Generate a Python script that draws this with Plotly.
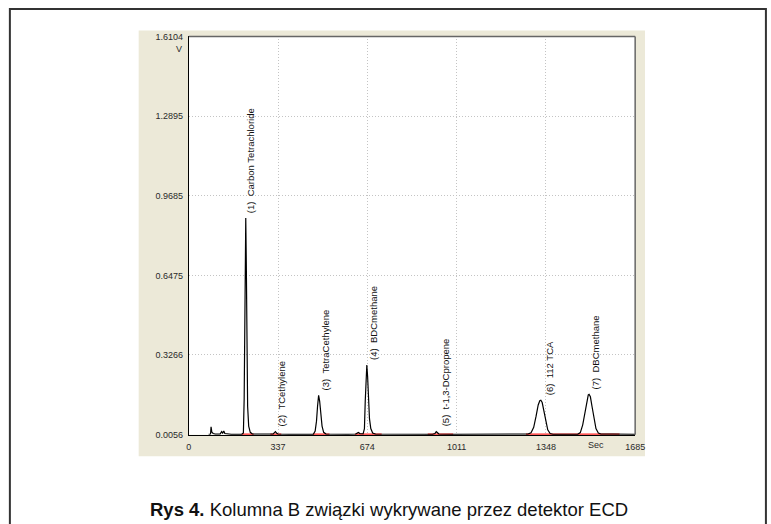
import plotly.graph_objects as go

W, H = 771, 524

# ---- data ----
time_s = [75, 82, 84, 87, 92, 100, 118, 124, 128, 132, 136, 145, 160, 200, 206, 209, 211, 213, 215, 217, 219, 222, 226, 232, 240,
          300, 318, 323, 327, 331, 337, 380,
          470, 477, 482, 486, 490, 494, 498, 503, 509, 518, 600,
          630, 640, 646, 658, 663, 666, 669, 672, 675, 678, 682, 687, 694, 705, 760,
          920, 929, 934, 938, 944, 1000,
          1090, 1280, 1292, 1302, 1311, 1319, 1325, 1329, 1334, 1340, 1347, 1355, 1364, 1375,
          1468, 1478, 1487, 1496, 1503, 1508, 1511, 1516, 1522, 1529, 1537, 1546, 1556, 1600, 1685]
signal_v = [0.007, 0.008, 0.037, 0.015, 0.010, 0.008, 0.008, 0.018, 0.012, 0.020, 0.010, 0.008, 0.007, 0.007, 0.012, 0.15, 0.55, 0.85, 0.879, 0.70, 0.35, 0.12, 0.04, 0.015, 0.008,
            0.007, 0.008, 0.014, 0.018, 0.012, 0.008, 0.007,
            0.007, 0.020, 0.060, 0.120, 0.164, 0.140, 0.090, 0.040, 0.015, 0.008, 0.007,
            0.008, 0.014, 0.010, 0.009, 0.030, 0.140, 0.250, 0.286, 0.240, 0.150, 0.070, 0.030, 0.012, 0.008, 0.007,
            0.007, 0.010, 0.018, 0.014, 0.008, 0.007,
            0.008, 0.008, 0.013, 0.035, 0.080, 0.125, 0.142, 0.144, 0.135, 0.105, 0.060, 0.025, 0.010, 0.007,
            0.007, 0.014, 0.045, 0.100, 0.148, 0.166, 0.168, 0.158, 0.120, 0.070, 0.030, 0.012, 0.008, 0.008, 0.007]

# integration baselines (start, end) in seconds
base_start = [200, 308, 468, 627, 902, 1273]
base_end = [245, 349, 531, 728, 998, 1626]
base_level = 0.0066

peak_labels = ["(1)\u00a0\u00a0Carbon Tetrachloride", "(2)\u00a0\u00a0TCethylene", "(3)\u00a0\u00a0TetraCethylene",
               "(4)\u00a0\u00a0BDCmethane", "(5)\u00a0\u00a0t-1,3-DCpropene", "(6)\u00a0\u00a0112 TCA", "(7)\u00a0\u00a0DBCmethane"]
peak_time = [215, 327, 490, 672, 936, 1329, 1511]
peak_height = [0.879, 0.018, 0.164, 0.286, 0.018, 0.144, 0.168]
peak_dx = [5, 6, 7, 6, 9, 8, 6]

y_ticks = [0.0056, 0.3266, 0.6475, 0.9685, 1.2895, 1.6104]
x_ticks = [0, 337, 674, 1011, 1348, 1685]
x_tick_text = ["0", "337", "674", "1011", "1348", "1685"]

# ---- layout geometry (pixels) ----
PL, PR, PT, PB = 189, 643, 32, 438
def px(x): return x / W
def py(y): return 1 - y / H

fig = go.Figure()

bx, by = [], []
for s, e in zip(base_start, base_end):
    bx += [s, e, None]
    by += [base_level, base_level, None]
fig.add_trace(go.Scatter(x=bx, y=by, mode="lines", line=dict(color="#ff2020", width=2),
                         hoverinfo="skip", showlegend=False))
fig.add_trace(go.Scatter(x=time_s, y=signal_v, mode="lines", line=dict(color="#000000", width=1.2),
                         showlegend=False))

font_tick = dict(family="Liberation Sans, Arial, sans-serif", size=9, color="#2a2a2a")

fig.update_layout(
    width=W, height=H, margin=dict(l=0, r=0, t=0, b=0),
    paper_bgcolor="white", plot_bgcolor="white",
    xaxis=dict(domain=[px(PL), px(PR)], range=[0, 1685], tickvals=x_ticks, ticktext=x_tick_text,
               showgrid=True, gridcolor="#c4c4c4", griddash="1px,2px", gridwidth=1,
               showline=True, linecolor="black", linewidth=1, ticks="", zeroline=False,
               tickfont=font_tick, ticklabelstandoff=4),
    yaxis=dict(domain=[py(PB), py(PT)], range=[0.0056, 1.6104], tickvals=y_ticks,
               ticktext=[f"{v:.4f}" for v in y_ticks],
               showgrid=True, gridcolor="#c4c4c4", griddash="1px,2px", gridwidth=1,
               showline=True, linecolor="black", linewidth=1, ticks="", zeroline=False,
               tickfont=font_tick, ticklabelstandoff=3),
)

shapes = [
    # outer page frame (top and left edges visible)
    dict(type="rect", xref="paper", yref="paper", x0=px(7), x1=px(776), y0=py(530), y1=py(4),
         line=dict(color="#333333", width=2), fillcolor="rgba(0,0,0,0)", layer="below"),
    # beige panel
    dict(type="rect", xref="paper", yref="paper", x0=px(138), x1=px(653), y0=py(460), y1=py(26),
         line=dict(width=0), fillcolor="#ece9d8", layer="below"),
    # white plot area
    dict(type="rect", xref="paper", yref="paper", x0=px(PL), x1=px(PR), y0=py(PB), y1=py(PT),
         line=dict(width=0), fillcolor="white", layer="below"),
    # top and right frame (grey)
    dict(type="line", xref="paper", yref="paper", x0=px(PL), x1=px(PR), y0=py(PT), y1=py(PT),
         line=dict(color="#666666", width=1.5)),
    dict(type="line", xref="paper", yref="paper", x0=px(PR), x1=px(PR), y0=py(PB), y1=py(PT),
         line=dict(color="#666666", width=1.5)),
]
fig.update_layout(shapes=shapes)

ann = []
for t, h, lab, dx in zip(peak_time, peak_height, peak_labels, peak_dx):
    ann.append(dict(x=t, y=h, xref="x", yref="y", text=lab, textangle=-90, showarrow=False,
                    xanchor="center", yanchor="bottom", xshift=dx, yshift=3,
                    font=dict(family="Liberation Sans, Arial, sans-serif", size=9.5, color="#111111")))
ann.append(dict(x=px(184), y=py(45), xref="paper", yref="paper", text="V", showarrow=False,
                xanchor="right", yanchor="middle", font=font_tick))
ann.append(dict(x=1537, y=py(449), xref="x", yref="paper", text="Sec", showarrow=False,
                xanchor="center", yanchor="middle", font=font_tick))
ann.append(dict(x=px(393), y=py(514), xref="paper", yref="paper",
                text="<b>Rys 4.</b> Kolumna B związki wykrywane przez detektor ECD", showarrow=False,
                xanchor="center", yanchor="middle",
                font=dict(family="Liberation Sans, Arial, sans-serif", size=18.5, color="#111111")))
fig.update_layout(annotations=ann)

fig.write_html("out.html", config={"displayModeBar": False},
               post_script="document.body.style.margin='0';document.body.style.overflow='hidden';")
